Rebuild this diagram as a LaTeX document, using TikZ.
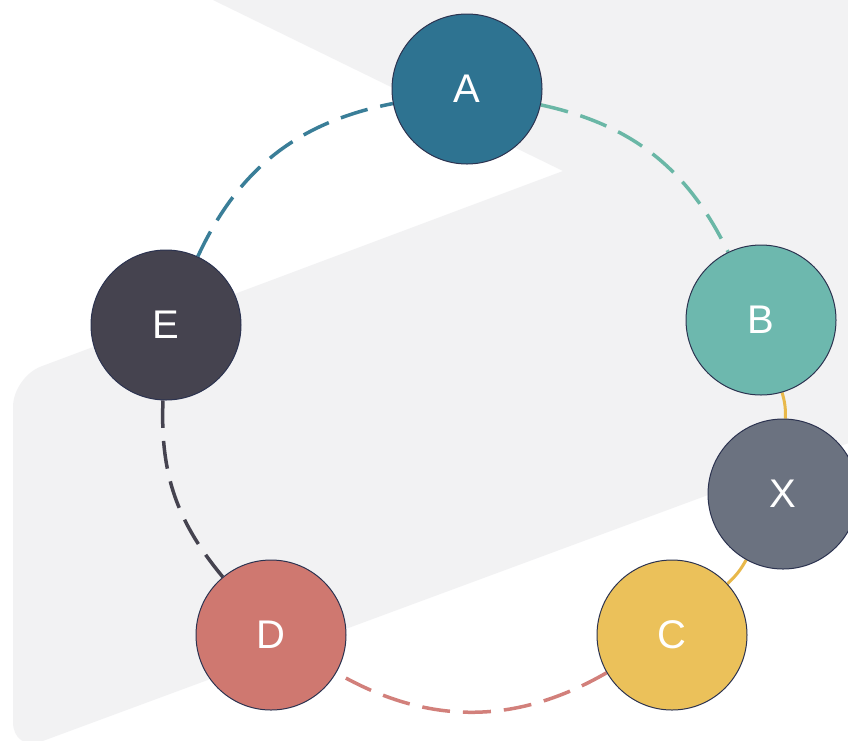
\documentclass[tikz,border=0pt]{standalone}
\usepackage{fontspec}
\setmainfont{Liberation Sans}
\definecolor{bggray}{HTML}{F2F2F3}
\definecolor{acol}{HTML}{2E7391}
\definecolor{bcol}{HTML}{6DB8AE}
\definecolor{xcol}{HTML}{6B7280}
\definecolor{ccol}{HTML}{EBC15A}
\definecolor{dcol}{HTML}{CF7870}
\definecolor{ecol}{HTML}{45434F}
\definecolor{ringcol}{HTML}{2C3350}
\definecolor{ealink}{HTML}{3A7E98}
\definecolor{ablink}{HTML}{6AB7A6}
\definecolor{yellink}{HTML}{E8B84A}
\definecolor{cdlink}{HTML}{D2807B}
\definecolor{delink}{HTML}{45434F}
\pgfdeclarelayer{back}
\pgfdeclarelayer{links}
\pgfsetlayers{back,links,main}
\begin{document}
\begin{tikzpicture}[x=1pt,y=-1pt,
  ball/.style={circle, draw=ringcol, line width=1pt, minimum size=150pt,
    inner sep=0pt, text=white, font=\fontsize{40}{40}\selectfont},
  dashlink/.style={line width=3.5pt, dash pattern=on 28pt off 13pt},
  solidlink/.style={line width=3pt}]
\useasboundingbox (0,0) rectangle (848,740);
\begin{pgfonlayer}{back}
\fill[white] (0,0) rectangle (848,740);
\fill[bggray] (563,171) -- (213,0) -- (900,-30) -- (900,424)
  [rounded corners=30pt] -- (13,752) -- (13,377) -- (563,171);
\end{pgfonlayer}

\node[ball, fill=acol] (A) at (467,89) {A};
\node[ball, fill=bcol] (B) at (761,320) {B};
\node[ball, fill=xcol] (X) at (783,494) {X};
\node[ball, fill=ccol] (C) at (672,635) {C};
\node[ball, fill=dcol] (D) at (271,635) {D};
\node[ball, fill=ecol] (E) at (166,325) {E};

\begin{pgfonlayer}{links}
\draw[dashlink, ealink] (E) to[bend left=27] (A);
\draw[dashlink, ablink] (A) to[bend left=26] (B);
\draw[solidlink, yellink] (B) to[bend left=9] (X);
\draw[solidlink, yellink] (X) to[bend left=9] (C);
\draw[dashlink, cdlink] (C) to[bend left=30] (D);
\draw[dashlink, delink] (D) to[bend left=21] (E);
\end{pgfonlayer}
\end{tikzpicture}
\end{document}
